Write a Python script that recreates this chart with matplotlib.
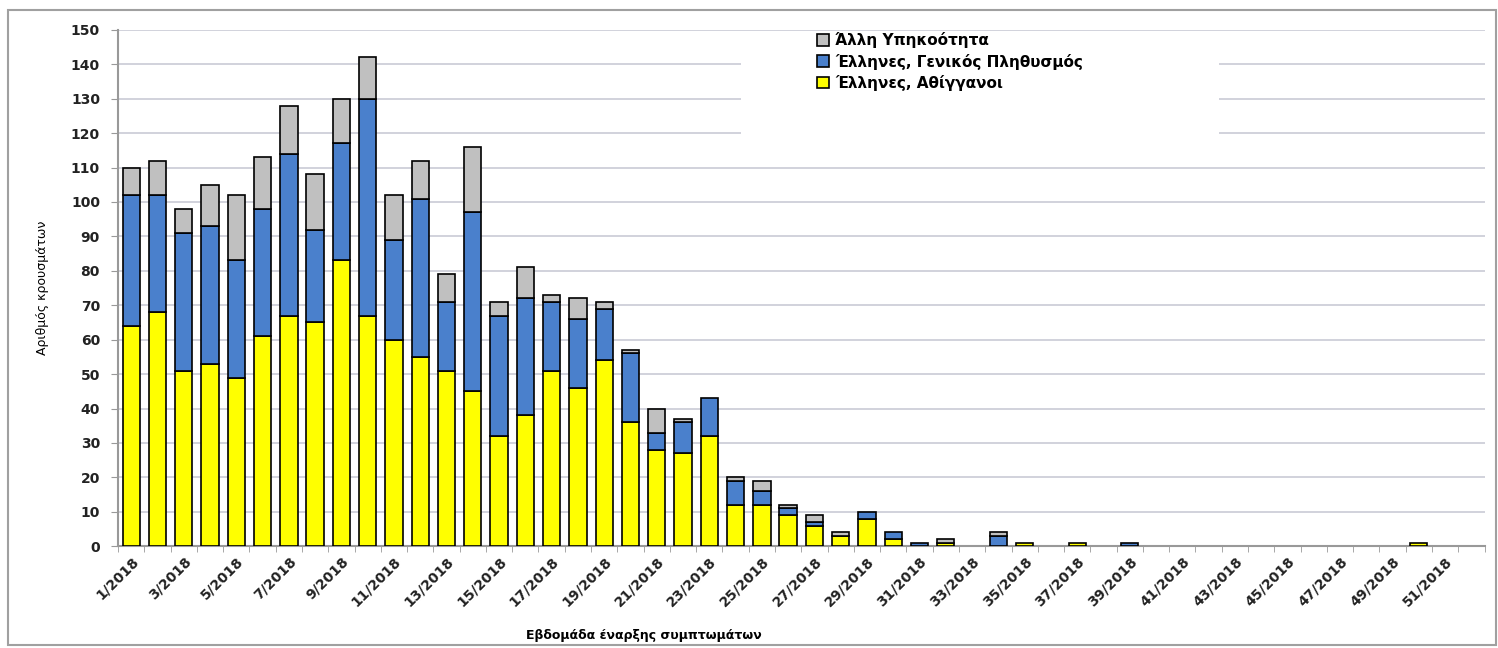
import numpy as np
import matplotlib
matplotlib.use("Agg")
import matplotlib.pyplot as plt
from matplotlib.patches import Rectangle

# weeks 1..52 of 2018
weeks = [f"{w}/2018" for w in range(1, 53)]

athiggani = [64, 68, 51, 53, 49, 61, 67, 65, 83, 67, 60, 55, 51, 45, 32, 38,
             51, 46, 54, 36, 28, 27, 32, 12, 12, 9, 6, 3, 8, 2, 0, 1,
             0, 0, 1, 0, 1, 0, 0, 0, 0, 0, 0, 0, 0, 0, 0, 0, 0, 1, 0, 0]
genikos = [38, 34, 40, 40, 34, 37, 47, 27, 34, 63, 29, 46, 20, 52, 35, 34,
           20, 20, 15, 20, 5, 9, 11, 7, 4, 2, 1, 0, 2, 2, 1, 0,
           0, 3, 0, 0, 0, 0, 1, 0, 0, 0, 0, 0, 0, 0, 0, 0, 0, 0, 0, 0]
alli = [8, 10, 7, 12, 19, 15, 14, 16, 13, 12, 13, 11, 8, 19, 4, 9,
        2, 6, 2, 1, 7, 1, 0, 1, 3, 1, 2, 1, 0, 0, 0, 1,
        0, 1, 0, 0, 0, 0, 0, 0, 0, 0, 0, 0, 0, 0, 0, 0, 0, 0, 0, 0]

labels = ["Άλλη Υπηκοότητα", "Έλληνες, Γενικός Πληθυσμός", "Έλληνες, Αθίγγανοι"]
colors = ["#c0c0c0", "#4a80cc", "#ffff00"]

plt.rcParams["font.family"] = ["DejaVu Sans"]

fig = plt.figure(figsize=(14.98, 6.48), dpi=100)
ax = fig.add_axes([0.0788, 0.157, 0.9122, 0.797])

x = np.arange(len(weeks))
a = np.array(athiggani)
g = np.array(genikos)
o = np.array(alli)


def stack(vals, bottom, color):
    # skip empty segments so they do not leave a black line on the axis
    m = vals > 0
    return ax.bar(x[m], vals[m], 0.66, bottom=bottom[m], color=color,
                  edgecolor="black", linewidth=1.2, zorder=3)


zero = np.zeros_like(a)
b_y = stack(a, zero, colors[2])
b_g = stack(g, a, colors[1])
b_o = stack(o, a + g, colors[0])

ax.set_xlim(-0.5, len(weeks) - 0.5)
ax.set_ylim(0, 150)
ax.set_yticks(range(0, 151, 10))
ax.yaxis.grid(True, color="#c9cbd6", linewidth=1.2, zorder=0)
ax.set_axisbelow(True)

ax.set_xticks(x[::2])
ax.set_xticklabels(weeks[::2], rotation=45, ha="right", rotation_mode="anchor",
                   fontsize=10, fontweight="bold", color="#222222")
ax.set_xticks(np.arange(-0.5, len(weeks)), minor=True)
ax.tick_params(axis="x", which="major", length=0, pad=6)
ax.tick_params(axis="x", which="minor", length=4, color="#999999")
ax.tick_params(axis="y", length=5, color="#999999", pad=8)
for t in ax.get_yticklabels():
    t.set_fontweight("bold")
    t.set_fontsize(10)
    t.set_color("#222222")

for s in ["top", "right"]:
    ax.spines[s].set_visible(False)
ax.spines["left"].set_color("#999999")
ax.spines["bottom"].set_color("#999999")
ax.spines["left"].set_linewidth(1.5)
ax.spines["bottom"].set_linewidth(1.5)

# white legend area hiding the grid behind it
ax.add_patch(Rectangle((23.2, 115.5), 18.2, 31.5, facecolor="white",
                       edgecolor="none", zorder=1))

leg = ax.legend([b_o, b_g, b_y], labels, loc="upper left",
                bbox_to_anchor=(0.5, 1.025), frameon=False,
                handlelength=0.8, handleheight=0.8, handletextpad=0.4,
                labelspacing=0.35, borderpad=0.5,
                prop={"weight": "bold", "size": 11})
leg.set_zorder(5)

ax.set_ylabel("Αριθμός κρουσμάτων", fontsize=9, labelpad=16)
fig.text(0.43, 0.01, "Εβδομάδα έναρξης συμπτωμάτων", fontsize=9,
         fontweight="bold", ha="center", va="bottom")

# outer chart frame
fig.patches.append(Rectangle((0.0055, 0.004), 0.993, 0.98, transform=fig.transFigure,
                             fill=False, edgecolor="#a0a0a0", linewidth=1.5))

fig.savefig("out.png", dpi=100)
